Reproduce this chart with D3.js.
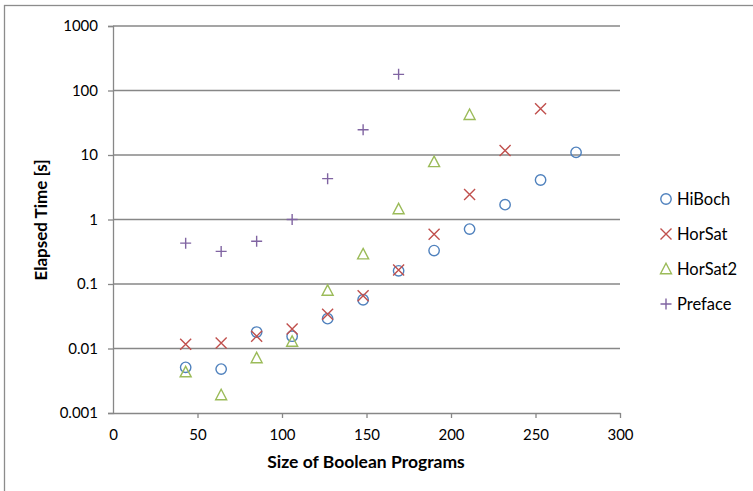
<!DOCTYPE html>
<html>
<head>
<meta charset="utf-8">
<script src="https://cdn.jsdelivr.net/npm/d3@7"></script>
<style>
  html, body { margin: 0; padding: 0; background: #fff; }
  svg { display: block; }
  text { font-family: Lato, "Open Sans", sans-serif; fill: #000; }
</style>
</head>
<body>
<svg id="chart" width="753" height="491"></svg>
<script>
// Program sizes (x) shared by all solvers
const sizes = [43, 64, 85, 106, 127, 148, 169, 190, 211, 232, 253, 274];

// Elapsed times in seconds per solver
const hiBoch  = [0.0051, 0.0048, 0.018, 0.0155, 0.029, 0.057, 0.16, 0.33, 0.71, 1.7, 4.1, 11];
const horSat  = [0.0116, 0.0122, 0.0155, 0.020, 0.034, 0.066, 0.165, 0.59, 2.45, 11.7, 52];
const horSat2 = [0.0043, 0.0019, 0.0071, 0.0128, 0.079, 0.29, 1.45, 7.8, 42];
const preface = [0.43, 0.32, 0.46, 1.0, 4.3, 24.6, 178];

const xTicks = [0, 50, 100, 150, 200, 250, 300];
const yTicks = [0.001, 0.01, 0.1, 1, 10, 100, 1000];

const series = [
  { name: "HiBoch",  values: hiBoch,  color: "#4F81BD", shape: "circle" },
  { name: "HorSat",  values: horSat,  color: "#C0504D", shape: "cross" },
  { name: "HorSat2", values: horSat2, color: "#9BBB59", shape: "triangle" },
  { name: "Preface", values: preface, color: "#8064A2", shape: "plus" }
];

const svg = d3.select("#chart");
const plot = { left: 113, right: 620, top: 26, bottom: 413 };

const x = d3.scaleLinear().domain([0, 300]).range([plot.left, plot.right]);
const y = d3.scaleLog().domain([0.001, 1000]).range([plot.bottom, plot.top]);

// Outer chart frame
svg.append("rect")
  .attr("x", 4.5).attr("y", 5.5).attr("width", 900).attr("height", 700)
  .attr("fill", "none").attr("stroke", "#8c8c8c").attr("stroke-width", 1.3);

const gridColor = "#878787";

// Horizontal gridlines
svg.append("g").selectAll("line")
  .data(yTicks.slice(1))
  .join("line")
  .attr("x1", plot.left).attr("x2", plot.right)
  .attr("y1", d => y(d)).attr("y2", d => y(d))
  .attr("stroke", gridColor).attr("stroke-width", 1.3);

// Y axis
const yAxis = svg.append("g")
  .attr("transform", `translate(${plot.left},0)`)
  .call(d3.axisLeft(y).tickValues(yTicks).tickFormat(d3.format("~g")).tickSize(5).tickPadding(10));
yAxis.select(".domain").attr("stroke", gridColor).attr("stroke-width", 1.3);
yAxis.selectAll(".tick line").attr("stroke", gridColor).attr("stroke-width", 1.3);
yAxis.selectAll(".tick text").attr("font-size", 15).attr("font-family", "Lato, sans-serif").attr("fill", "#000");

// X axis
const xAxis = svg.append("g")
  .attr("transform", `translate(0,${plot.bottom})`)
  .call(d3.axisBottom(x).tickValues(xTicks).tickSize(5).tickSizeOuter(0).tickPadding(11));
xAxis.select(".domain").attr("stroke", gridColor).attr("stroke-width", 1.3);
xAxis.selectAll(".tick line").attr("stroke", gridColor).attr("stroke-width", 1.3);
xAxis.selectAll(".tick").filter(d => d === 0).select("line").remove();
xAxis.selectAll(".tick text").attr("font-size", 15).attr("font-family", "Lato, sans-serif").attr("fill", "#000");

// Marker drawing
function marker(g, shape, color, s) {
  const r = s / 2;
  if (shape === "circle") {
    g.append("circle").attr("r", 5.2).attr("fill", "none").attr("stroke", color).attr("stroke-width", 1.4);
  } else if (shape === "cross") {
    g.append("path").attr("d", `M${-r},${-r}L${r},${r}M${-r},${r}L${r},${-r}`)
      .attr("stroke", color).attr("stroke-width", 1.4).attr("fill", "none");
  } else if (shape === "triangle") {
    g.append("path").attr("d", `M0,${-r * 1.05}L${r},${r * 0.85}L${-r},${r * 0.85}Z`)
      .attr("stroke", color).attr("stroke-width", 1.4).attr("fill", "none");
  } else {
    g.append("path").attr("d", `M${-r},0L${r},0M0,${-r}L0,${r}`)
      .attr("stroke", color).attr("stroke-width", 1.4).attr("fill", "none");
  }
}

// Data points
series.forEach(s => {
  const g = svg.append("g");
  s.values.forEach((v, i) => {
    const m = g.append("g").attr("transform", `translate(${x(sizes[i])},${y(v)})`);
    marker(m, s.shape, s.color, 11);
  });
});

// Legend
const legend = svg.append("g");
series.forEach((s, i) => {
  const ly = 199 + i * 35;
  const m = legend.append("g").attr("transform", `translate(666,${ly})`);
  marker(m, s.shape, s.color, 11);
  legend.append("text")
    .attr("x", 677).attr("y", ly).attr("dy", "0.36em")
    .attr("font-size", 16.5).text(s.name);
});

// Axis titles
svg.append("text")
  .attr("x", 366).attr("y", 462).attr("dy", "0.36em")
  .attr("text-anchor", "middle").attr("font-weight", "bold").attr("font-size", 17.5)
  .text("Size of Boolean Programs");

svg.append("text")
  .attr("transform", "translate(41,220) rotate(-90)")
  .attr("dy", "0.36em")
  .attr("text-anchor", "middle").attr("font-weight", "bold").attr("font-size", 17)
  .text("Elapsed Time [s]");
</script>
</body>
</html>
